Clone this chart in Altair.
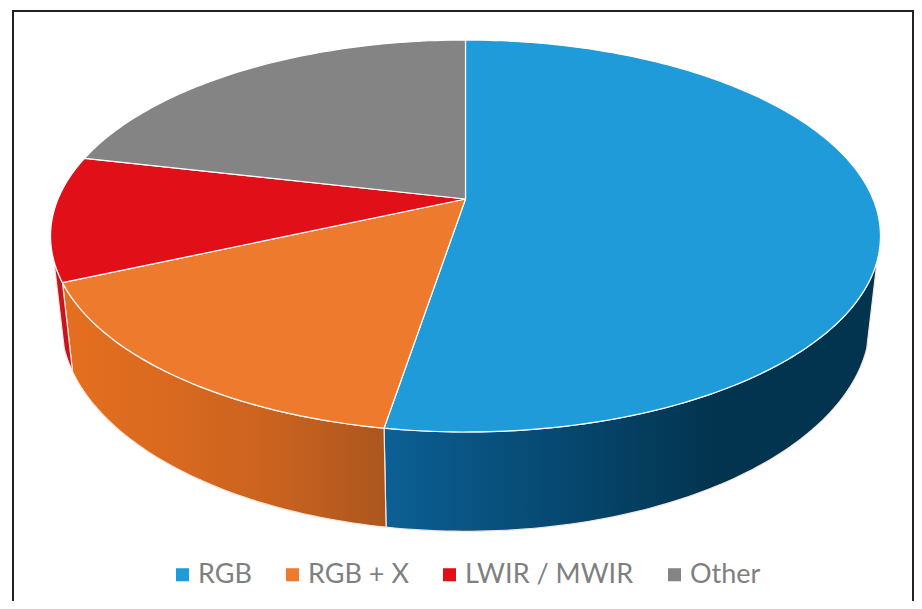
import math
import altair as alt
import pandas as pd

labels = ["RGB", "RGB + X", "LWIR / MWIR", "Other"]
shares = [52.6, 15.7, 10.3, 21.4]
colors = ["#1f9bd9", "#ee7a2e", "#e10f17", "#848484"]
wall_stops = [
    ["#0c5f95", "#064a73", "#03344f", "#03344f"],
    ["#e56f20", "#d9691f", "#c9621f", "#ab561e"],
    ["#c8141c", "#c8141c", "#c8141c", "#c8141c"],
]

# Perspective disc in picture coordinates
CX, CY = 465.5, 199
A, B, K = 407.5, 189, 0.1888
VIS_LEFT, VIS_RIGHT = 252, 108


def top(t):
    u, v = math.sin(math.radians(t)), math.cos(math.radians(t))
    w = 1 + K * v
    return A * u / w, B * v / w


def img_top(t):
    X, Y = top(t)
    return CX + X, CY - Y


def img_bottom(t):
    X, Y = top(t)
    return CX + 0.975 * X, CY - (1.07 * Y - 83)


def steps(a, b):
    n = max(2, int(abs(b - a)) + 1)
    return [a + (b - a) * i / (n - 1) for i in range(n)]


edges = [0]
for s in shares:
    edges.append(edges[-1] + s * 3.6)

rows = []
for name, a, b in zip(labels, edges[:-1], edges[1:]):
    pts = [(CX, CY)] + [img_top(t) for t in steps(a, b)] + [(CX, CY)]
    for i, (x, y) in enumerate(pts):
        rows.append({"series": name, "x": x, "y": y, "o": i})
tops = pd.DataFrame(rows)


def wall_frame(a, b):
    ts = steps(a, b)
    pts = [img_top(t) for t in ts] + [img_bottom(t) for t in reversed(ts)]
    pts.append(pts[0])
    return pd.DataFrame([{"x": x, "y": y, "o": i} for i, (x, y) in enumerate(pts)])


xs = alt.Scale(domain=[8, 914], range=[0, 906], nice=False, zero=False)
ys = alt.Scale(domain=[8, 601], range=[0, 593], nice=False, zero=False)
X = alt.X("x:Q", scale=xs, axis=None)
Y = alt.Y("y:Q", scale=ys, axis=None)

walls = []
wall_ranges = [(VIS_RIGHT, edges[1]), (edges[1], edges[2]), (edges[2], VIS_LEFT)]
for (a, b), st in zip(wall_ranges, wall_stops):
    grad = alt.Gradient(
        gradient="linear", x1=0, x2=1, y1=0, y2=0,
        stops=[alt.GradientStop(offset=i / (len(st) - 1), color=c) for i, c in enumerate(st)],
    )
    walls.append(
        alt.Chart(wall_frame(a, b))
        .mark_line(filled=True, fill=grad, stroke="#f6e6da", strokeWidth=1.2, interpolate="linear")
        .encode(x=X, y=Y, order="o:Q")
    )

top_layer = (
    alt.Chart(tops)
    .mark_line(filled=True, stroke="#ffffff", strokeWidth=1.2)
    .encode(
        x=X, y=Y, order="o:Q",
        color=alt.Color(
            "series:N",
            scale=alt.Scale(domain=labels, range=colors),
            legend=alt.Legend(
                title=None, orient="none", legendX=161, legendY=553, direction="horizontal",
                columns=4, columnPadding=27, symbolType="square", symbolSize=170,
                symbolStrokeWidth=0, labelFont="Lato", labelFontSize=27, labelColor="#7f7f7f",
                labelOffset=2, labelLimit=300,
            ),
        ),
    )
)

frame_src = pd.DataFrame({"k": [0]})
frame = [
    alt.Chart(frame_src).mark_rule(color="#222222", strokeWidth=2).encode(
        x=alt.value(5), y=alt.value(2), y2=alt.value(593)),
    alt.Chart(frame_src).mark_rule(color="#222222", strokeWidth=2).encode(
        x=alt.value(5), x2=alt.value(905), y=alt.value(3)),
    alt.Chart(frame_src).mark_rule(color="#222222", strokeWidth=2).encode(
        x=alt.value(905), y=alt.value(2), y2=alt.value(593)),
]

chart = (
    alt.layer(*frame, *walls, top_layer)
    .properties(width=906, height=593, padding=0, autosize=alt.AutoSizeParams(type="none"),
                background="#ffffff")
    .configure_view(stroke=None)
)
chart.save("out.html", embed_options={"renderer": "svg", "actions": False})
